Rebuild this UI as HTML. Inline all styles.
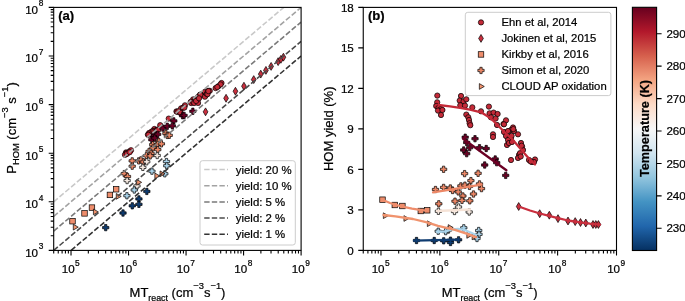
<!DOCTYPE html><html><head><meta charset="utf-8"><style>html,body{margin:0;padding:0;background:#fff;overflow:hidden}svg{display:block;will-change:transform}</style></head><body>
<svg width="685" height="301" viewBox="0 0 685 301" font-family="Liberation Sans, sans-serif">
<style>text{stroke:#000;stroke-width:0.22px;paint-order:stroke}</style>
<defs><linearGradient id="cb" x1="0" y1="1" x2="0" y2="0">
<stop offset="0.0" stop-color="#053061"/>
<stop offset="0.1" stop-color="#2166ac"/>
<stop offset="0.2" stop-color="#4393c3"/>
<stop offset="0.3" stop-color="#92c5de"/>
<stop offset="0.4" stop-color="#d1e5f0"/>
<stop offset="0.5" stop-color="#f7f7f7"/>
<stop offset="0.6" stop-color="#fddbc7"/>
<stop offset="0.7" stop-color="#f4a582"/>
<stop offset="0.8" stop-color="#d6604d"/>
<stop offset="0.9" stop-color="#b2182b"/>
<stop offset="1.0" stop-color="#67001f"/>
</linearGradient>
<clipPath id="ca"><rect x="53.7" y="7.4" width="247.40000000000003" height="243.0"/></clipPath>
<clipPath id="cbp"><rect x="363.25" y="7.4" width="253.25" height="243.0"/></clipPath>
</defs>
<rect width="685" height="301" fill="#fff"/>
<g clip-path="url(#ca)">
<circle cx="126.04" cy="152.42" r="2.65" fill="#c42a38" stroke="#000" stroke-width="0.7"/>
<circle cx="125.94" cy="153.44" r="2.65" fill="#c42a38" stroke="#000" stroke-width="0.7"/>
<circle cx="124.96" cy="154.8" r="2.65" fill="#c42a38" stroke="#000" stroke-width="0.7"/>
<circle cx="127.11" cy="153.28" r="2.65" fill="#c42a38" stroke="#000" stroke-width="0.7"/>
<circle cx="129.65" cy="151.28" r="2.65" fill="#c42a38" stroke="#000" stroke-width="0.7"/>
<circle cx="126.72" cy="153.99" r="2.65" fill="#c42a38" stroke="#000" stroke-width="0.7"/>
<circle cx="131.02" cy="150.27" r="2.65" fill="#c42a38" stroke="#000" stroke-width="0.7"/>
<circle cx="129.65" cy="152.19" r="2.65" fill="#c42a38" stroke="#000" stroke-width="0.7"/>
<circle cx="149.19" cy="132.91" r="2.65" fill="#c42a38" stroke="#000" stroke-width="0.7"/>
<circle cx="147.92" cy="134.63" r="2.65" fill="#c42a38" stroke="#000" stroke-width="0.7"/>
<circle cx="151.73" cy="131.51" r="2.65" fill="#c42a38" stroke="#000" stroke-width="0.7"/>
<circle cx="154.37" cy="129" r="2.65" fill="#c42a38" stroke="#000" stroke-width="0.7"/>
<circle cx="148.51" cy="134.8" r="2.65" fill="#c42a38" stroke="#000" stroke-width="0.7"/>
<circle cx="153.1" cy="130.97" r="2.65" fill="#c42a38" stroke="#000" stroke-width="0.7"/>
<circle cx="160.23" cy="125.19" r="2.65" fill="#c42a38" stroke="#000" stroke-width="0.7"/>
<circle cx="154.37" cy="131.25" r="2.65" fill="#c42a38" stroke="#000" stroke-width="0.7"/>
<circle cx="156.32" cy="130.02" r="2.65" fill="#c42a38" stroke="#000" stroke-width="0.7"/>
<circle cx="157.01" cy="129.88" r="2.65" fill="#c42a38" stroke="#000" stroke-width="0.7"/>
<circle cx="157.59" cy="129.91" r="2.65" fill="#c42a38" stroke="#000" stroke-width="0.7"/>
<circle cx="158.28" cy="129.66" r="2.65" fill="#c42a38" stroke="#000" stroke-width="0.7"/>
<circle cx="168.73" cy="118.61" r="2.65" fill="#c42a38" stroke="#000" stroke-width="0.7"/>
<circle cx="176.45" cy="111.39" r="2.65" fill="#c42a38" stroke="#000" stroke-width="0.7"/>
<circle cx="177.13" cy="111.82" r="2.65" fill="#c42a38" stroke="#000" stroke-width="0.7"/>
<circle cx="181.04" cy="108.41" r="2.65" fill="#c42a38" stroke="#000" stroke-width="0.7"/>
<circle cx="184.95" cy="105.32" r="2.65" fill="#c42a38" stroke="#000" stroke-width="0.7"/>
<circle cx="178.4" cy="111.37" r="2.65" fill="#c42a38" stroke="#000" stroke-width="0.7"/>
<circle cx="182.99" cy="107.7" r="2.65" fill="#c42a38" stroke="#000" stroke-width="0.7"/>
<circle cx="190.71" cy="102.06" r="2.65" fill="#c42a38" stroke="#000" stroke-width="0.7"/>
<circle cx="193.15" cy="99.39" r="2.65" fill="#c42a38" stroke="#000" stroke-width="0.7"/>
<circle cx="184.36" cy="107.59" r="2.65" fill="#c42a38" stroke="#000" stroke-width="0.7"/>
<circle cx="191.2" cy="101.7" r="2.65" fill="#c42a38" stroke="#000" stroke-width="0.7"/>
<circle cx="199.99" cy="94.81" r="2.65" fill="#c42a38" stroke="#000" stroke-width="0.7"/>
<circle cx="198.04" cy="96.89" r="2.65" fill="#c42a38" stroke="#000" stroke-width="0.7"/>
<circle cx="200.97" cy="94.59" r="2.65" fill="#c42a38" stroke="#000" stroke-width="0.7"/>
<circle cx="191.2" cy="103.03" r="2.65" fill="#c42a38" stroke="#000" stroke-width="0.7"/>
<circle cx="195.11" cy="99.55" r="2.65" fill="#c42a38" stroke="#000" stroke-width="0.7"/>
<circle cx="180.45" cy="112.52" r="2.65" fill="#c42a38" stroke="#000" stroke-width="0.7"/>
<circle cx="180.45" cy="113.02" r="2.65" fill="#c42a38" stroke="#000" stroke-width="0.7"/>
<circle cx="193.15" cy="102.1" r="2.65" fill="#c42a38" stroke="#000" stroke-width="0.7"/>
<circle cx="197.06" cy="98.85" r="2.65" fill="#c42a38" stroke="#000" stroke-width="0.7"/>
<circle cx="204.88" cy="91.88" r="2.65" fill="#c42a38" stroke="#000" stroke-width="0.7"/>
<circle cx="198.04" cy="98.35" r="2.65" fill="#c42a38" stroke="#000" stroke-width="0.7"/>
<circle cx="195.11" cy="101.2" r="2.65" fill="#c42a38" stroke="#000" stroke-width="0.7"/>
<circle cx="194.13" cy="103" r="2.65" fill="#c42a38" stroke="#000" stroke-width="0.7"/>
<circle cx="207.81" cy="91.05" r="2.65" fill="#c42a38" stroke="#000" stroke-width="0.7"/>
<circle cx="208.78" cy="90.93" r="2.65" fill="#c42a38" stroke="#000" stroke-width="0.7"/>
<circle cx="209.76" cy="90.82" r="2.65" fill="#c42a38" stroke="#000" stroke-width="0.7"/>
<circle cx="205.85" cy="95.2" r="2.65" fill="#c42a38" stroke="#000" stroke-width="0.7"/>
<circle cx="204.88" cy="96.7" r="2.65" fill="#c42a38" stroke="#000" stroke-width="0.7"/>
<circle cx="198.04" cy="102.94" r="2.65" fill="#c42a38" stroke="#000" stroke-width="0.7"/>
<circle cx="215.62" cy="88.09" r="2.65" fill="#c42a38" stroke="#000" stroke-width="0.7"/>
<circle cx="218.55" cy="86.08" r="2.65" fill="#c42a38" stroke="#000" stroke-width="0.7"/>
<circle cx="221.48" cy="83.02" r="2.65" fill="#c42a38" stroke="#000" stroke-width="0.7"/>
<circle cx="220.51" cy="84.43" r="2.65" fill="#c42a38" stroke="#000" stroke-width="0.7"/>
<circle cx="206.83" cy="93.98" r="2.65" fill="#c42a38" stroke="#000" stroke-width="0.7"/>
<circle cx="207.51" cy="94.14" r="2.65" fill="#c42a38" stroke="#000" stroke-width="0.7"/>
<circle cx="217.28" cy="87.04" r="2.65" fill="#c42a38" stroke="#000" stroke-width="0.7"/>
<circle cx="208.39" cy="91.09" r="2.65" fill="#c42a38" stroke="#000" stroke-width="0.7"/>
<circle cx="198.62" cy="97.44" r="2.65" fill="#c42a38" stroke="#000" stroke-width="0.7"/>
<circle cx="200.28" cy="94.84" r="2.65" fill="#c42a38" stroke="#000" stroke-width="0.7"/>
<circle cx="196.08" cy="100.96" r="2.65" fill="#c42a38" stroke="#000" stroke-width="0.7"/>
<circle cx="199.01" cy="98.29" r="2.65" fill="#c42a38" stroke="#000" stroke-width="0.7"/>
<path d="M205.56 107.88L207.91 111.83L205.56 115.78L203.21 111.83Z" fill="#c92f3e" stroke="#000" stroke-width="0.7"/>
<path d="M226.07 94.33L228.42 98.28L226.07 102.23L223.72 98.28Z" fill="#c92f3e" stroke="#000" stroke-width="0.7"/>
<path d="M235.45 87.29L237.8 91.24L235.45 95.19L233.1 91.24Z" fill="#c92f3e" stroke="#000" stroke-width="0.7"/>
<path d="M243.95 82.25L246.3 86.2L243.95 90.15L241.6 86.2Z" fill="#c92f3e" stroke="#000" stroke-width="0.7"/>
<path d="M253.72 75.65L256.07 79.6L253.72 83.55L251.37 79.6Z" fill="#c92f3e" stroke="#000" stroke-width="0.7"/>
<path d="M260.75 70.15L263.1 74.1L260.75 78.05L258.4 74.1Z" fill="#c92f3e" stroke="#000" stroke-width="0.7"/>
<path d="M265.93 66.44L268.28 70.39L265.93 74.34L263.58 70.39Z" fill="#c92f3e" stroke="#000" stroke-width="0.7"/>
<path d="M271.11 62.45L273.46 66.4L271.11 70.35L268.76 66.4Z" fill="#c92f3e" stroke="#000" stroke-width="0.7"/>
<path d="M278.14 57.69L280.49 61.64L278.14 65.59L275.79 61.64Z" fill="#c92f3e" stroke="#000" stroke-width="0.7"/>
<path d="M280.88 55.38L283.23 59.33L280.88 63.28L278.53 59.33Z" fill="#c92f3e" stroke="#000" stroke-width="0.7"/>
<path d="M283.42 53.24L285.77 57.19L283.42 61.14L281.07 57.19Z" fill="#c92f3e" stroke="#000" stroke-width="0.7"/>
<rect x="69.76" y="218.46" width="5.5" height="5.5" fill="#ee8d6c" stroke="#000" stroke-width="0.7"/>
<rect x="81.77" y="210.64" width="5.5" height="5.5" fill="#ee8d6c" stroke="#000" stroke-width="0.7"/>
<rect x="89.2" y="204.84" width="5.5" height="5.5" fill="#ee8d6c" stroke="#000" stroke-width="0.7"/>
<rect x="107.17" y="192.17" width="5.5" height="5.5" fill="#ee8d6c" stroke="#000" stroke-width="0.7"/>
<rect x="113.42" y="186.52" width="5.5" height="5.5" fill="#ee8d6c" stroke="#000" stroke-width="0.7"/>
<path d="M152.14 132.85L154.44 132.85L154.44 134.85L156.44 134.85L156.44 137.15L154.44 137.15L154.44 139.15L152.14 139.15L152.14 137.15L150.14 137.15L150.14 134.85L152.14 134.85Z" fill="#6b0024" stroke="#000" stroke-width="0.7" stroke-linejoin="miter"/>
<path d="M161.72 125.04L164.02 125.04L164.02 127.04L166.02 127.04L166.02 129.34L164.02 129.34L164.02 131.34L161.72 131.34L161.72 129.34L159.72 129.34L159.72 127.04L161.72 127.04Z" fill="#6b0024" stroke="#000" stroke-width="0.7" stroke-linejoin="miter"/>
<path d="M153.61 132.62L155.91 132.62L155.91 134.62L157.91 134.62L157.91 136.92L155.91 136.92L155.91 138.92L153.61 138.92L153.61 136.92L151.61 136.92L151.61 134.62L153.61 134.62Z" fill="#6b0024" stroke="#000" stroke-width="0.7" stroke-linejoin="miter"/>
<path d="M156.54 131.19L158.84 131.19L158.84 133.19L160.84 133.19L160.84 135.49L158.84 135.49L158.84 137.49L156.54 137.49L156.54 135.49L154.54 135.49L154.54 133.19L156.54 133.19Z" fill="#6b0024" stroke="#000" stroke-width="0.7" stroke-linejoin="miter"/>
<path d="M150.68 136.62L152.98 136.62L152.98 138.62L154.98 138.62L154.98 140.92L152.98 140.92L152.98 142.92L150.68 142.92L150.68 140.92L148.68 140.92L148.68 138.62L150.68 138.62Z" fill="#6b0024" stroke="#000" stroke-width="0.7" stroke-linejoin="miter"/>
<path d="M153.61 134.94L155.91 134.94L155.91 136.94L157.91 136.94L157.91 139.24L155.91 139.24L155.91 141.24L153.61 141.24L153.61 139.24L151.61 139.24L151.61 136.94L153.61 136.94Z" fill="#6b0024" stroke="#000" stroke-width="0.7" stroke-linejoin="miter"/>
<path d="M166.11 123.1L168.41 123.1L168.41 125.1L170.41 125.1L170.41 127.4L168.41 127.4L168.41 129.4L166.11 129.4L166.11 127.4L164.11 127.4L164.11 125.1L166.11 125.1Z" fill="#6b0024" stroke="#000" stroke-width="0.7" stroke-linejoin="miter"/>
<path d="M172.66 117.74L174.96 117.74L174.96 119.74L176.96 119.74L176.96 122.04L174.96 122.04L174.96 124.04L172.66 124.04L172.66 122.04L170.66 122.04L170.66 119.74L172.66 119.74Z" fill="#6b0024" stroke="#000" stroke-width="0.7" stroke-linejoin="miter"/>
<path d="M181.45 112.6L183.75 112.6L183.75 114.6L185.75 114.6L185.75 116.9L183.75 116.9L183.75 118.9L181.45 118.9L181.45 116.9L179.45 116.9L179.45 114.6L181.45 114.6Z" fill="#6b0024" stroke="#000" stroke-width="0.7" stroke-linejoin="miter"/>
<path d="M182.92 112.24L185.22 112.24L185.22 114.24L187.22 114.24L187.22 116.54L185.22 116.54L185.22 118.54L182.92 118.54L182.92 116.54L180.92 116.54L180.92 114.24L182.92 114.24Z" fill="#6b0024" stroke="#000" stroke-width="0.7" stroke-linejoin="miter"/>
<path d="M171.19 122.7L173.49 122.7L173.49 124.7L175.49 124.7L175.49 127L173.49 127L173.49 129L171.19 129L171.19 127L169.19 127L169.19 124.7L171.19 124.7Z" fill="#6b0024" stroke="#000" stroke-width="0.7" stroke-linejoin="miter"/>
<path d="M191.71 108.11L194.01 108.11L194.01 110.11L196.01 110.11L196.01 112.41L194.01 112.41L194.01 114.41L191.71 114.41L191.71 112.41L189.71 112.41L189.71 110.11L191.71 110.11Z" fill="#6b0024" stroke="#000" stroke-width="0.7" stroke-linejoin="miter"/>
<path d="M131.04 157.72L133.34 157.72L133.34 159.72L135.34 159.72L135.34 162.02L133.34 162.02L133.34 164.02L131.04 164.02L131.04 162.02L129.04 162.02L129.04 159.72L131.04 159.72Z" fill="#ec8766" stroke="#000" stroke-width="0.7" stroke-linejoin="miter"/>
<path d="M151.56 141.53L153.86 141.53L153.86 143.53L155.86 143.53L155.86 145.83L153.86 145.83L153.86 147.83L151.56 147.83L151.56 145.83L149.56 145.83L149.56 143.53L151.56 143.53Z" fill="#ec8766" stroke="#000" stroke-width="0.7" stroke-linejoin="miter"/>
<path d="M164.75 130.31L167.05 130.31L167.05 132.31L169.05 132.31L169.05 134.61L167.05 134.61L167.05 136.61L164.75 136.61L164.75 134.61L162.75 134.61L162.75 132.31L164.75 132.31Z" fill="#ec8766" stroke="#000" stroke-width="0.7" stroke-linejoin="miter"/>
<path d="M157.71 138.35L160.01 138.35L160.01 140.35L162.01 140.35L162.01 142.65L160.01 142.65L160.01 144.65L157.71 144.65L157.71 142.65L155.71 142.65L155.71 140.35L157.71 140.35Z" fill="#ec8766" stroke="#000" stroke-width="0.7" stroke-linejoin="miter"/>
<path d="M131.04 163.05L133.34 163.05L133.34 165.05L135.34 165.05L135.34 167.35L133.34 167.35L133.34 169.35L131.04 169.35L131.04 167.35L129.04 167.35L129.04 165.05L131.04 165.05Z" fill="#ec8766" stroke="#000" stroke-width="0.7" stroke-linejoin="miter"/>
<path d="M137.59 157.72L139.89 157.72L139.89 159.72L141.89 159.72L141.89 162.02L139.89 162.02L139.89 164.02L137.59 164.02L137.59 162.02L135.59 162.02L135.59 159.72L137.59 159.72Z" fill="#ec8766" stroke="#000" stroke-width="0.7" stroke-linejoin="miter"/>
<path d="M139.84 156.68L142.14 156.68L142.14 158.68L144.14 158.68L144.14 160.98L142.14 160.98L142.14 162.98L139.84 162.98L139.84 160.98L137.84 160.98L137.84 158.68L139.84 158.68Z" fill="#ec8766" stroke="#000" stroke-width="0.7" stroke-linejoin="miter"/>
<path d="M147.94 148.27L150.24 148.27L150.24 150.27L152.24 150.27L152.24 152.57L150.24 152.57L150.24 154.57L147.94 154.57L147.94 152.57L145.94 152.57L145.94 150.27L147.94 150.27Z" fill="#ec8766" stroke="#000" stroke-width="0.7" stroke-linejoin="miter"/>
<path d="M151.85 144.74L154.15 144.74L154.15 146.74L156.15 146.74L156.15 149.04L154.15 149.04L154.15 151.04L151.85 151.04L151.85 149.04L149.85 149.04L149.85 146.74L151.85 146.74Z" fill="#ec8766" stroke="#000" stroke-width="0.7" stroke-linejoin="miter"/>
<path d="M156.35 141.34L158.65 141.34L158.65 143.34L160.65 143.34L160.65 145.64L158.65 145.64L158.65 147.64L156.35 147.64L156.35 145.64L154.35 145.64L154.35 143.34L156.35 143.34Z" fill="#ec8766" stroke="#000" stroke-width="0.7" stroke-linejoin="miter"/>
<path d="M166.11 132.27L168.41 132.27L168.41 134.27L170.41 134.27L170.41 136.57L168.41 136.57L168.41 138.57L166.11 138.57L166.11 136.57L164.11 136.57L164.11 134.27L166.11 134.27Z" fill="#ec8766" stroke="#000" stroke-width="0.7" stroke-linejoin="miter"/>
<path d="M168.07 132.17L170.37 132.17L170.37 134.17L172.37 134.17L172.37 136.47L170.37 136.47L170.37 138.47L168.07 138.47L168.07 136.47L166.07 136.47L166.07 134.17L168.07 134.17Z" fill="#ec8766" stroke="#000" stroke-width="0.7" stroke-linejoin="miter"/>
<path d="M145.31 152.56L147.61 152.56L147.61 154.56L149.61 154.56L149.61 156.86L147.61 156.86L147.61 158.86L145.31 158.86L145.31 156.86L143.31 156.86L143.31 154.56L145.31 154.56Z" fill="#ec8766" stroke="#000" stroke-width="0.7" stroke-linejoin="miter"/>
<path d="M149.9 150.21L152.2 150.21L152.2 152.21L154.2 152.21L154.2 154.51L152.2 154.51L152.2 156.51L149.9 156.51L149.9 154.51L147.9 154.51L147.9 152.21L149.9 152.21Z" fill="#ec8766" stroke="#000" stroke-width="0.7" stroke-linejoin="miter"/>
<path d="M160.25 140.7L162.55 140.7L162.55 142.7L164.55 142.7L164.55 145L162.55 145L162.55 147L160.25 147L160.25 145L158.25 145L158.25 142.7L160.25 142.7Z" fill="#ec8766" stroke="#000" stroke-width="0.7" stroke-linejoin="miter"/>
<path d="M123.13 170.45L125.43 170.45L125.43 172.45L127.43 172.45L127.43 174.75L125.43 174.75L125.43 176.75L123.13 176.75L123.13 174.75L121.13 174.75L121.13 172.45L123.13 172.45Z" fill="#ec8766" stroke="#000" stroke-width="0.7" stroke-linejoin="miter"/>
<path d="M126.35 173.37L128.65 173.37L128.65 175.37L130.65 175.37L130.65 177.67L128.65 177.67L128.65 179.67L126.35 179.67L126.35 177.67L124.35 177.67L124.35 175.37L126.35 175.37Z" fill="#ec8766" stroke="#000" stroke-width="0.7" stroke-linejoin="miter"/>
<path d="M142.18 158.86L144.48 158.86L144.48 160.86L146.48 160.86L146.48 163.16L144.48 163.16L144.48 165.16L142.18 165.16L142.18 163.16L140.18 163.16L140.18 160.86L142.18 160.86Z" fill="#ec8766" stroke="#000" stroke-width="0.7" stroke-linejoin="miter"/>
<path d="M149.02 152.74L151.32 152.74L151.32 154.74L153.32 154.74L153.32 157.04L151.32 157.04L151.32 159.04L149.02 159.04L149.02 157.04L147.02 157.04L147.02 154.74L149.02 154.74Z" fill="#ec8766" stroke="#000" stroke-width="0.7" stroke-linejoin="miter"/>
<path d="M156.64 146.47L158.94 146.47L158.94 148.47L160.94 148.47L160.94 150.77L158.94 150.77L158.94 152.77L156.64 152.77L156.64 150.77L154.64 150.77L154.64 148.47L156.64 148.47Z" fill="#ec8766" stroke="#000" stroke-width="0.7" stroke-linejoin="miter"/>
<path d="M135.83 182.8L138.13 182.8L138.13 184.8L140.13 184.8L140.13 187.1L138.13 187.1L138.13 189.1L135.83 189.1L135.83 187.1L133.83 187.1L133.83 184.8L135.83 184.8Z" fill="#f8ece4" stroke="#000" stroke-width="0.7" stroke-linejoin="miter"/>
<path d="M125.96 177.41L128.26 177.41L128.26 179.41L130.26 179.41L130.26 181.71L128.26 181.71L128.26 183.71L125.96 183.71L125.96 181.71L123.96 181.71L123.96 179.41L125.96 179.41Z" fill="#f8ece4" stroke="#000" stroke-width="0.7" stroke-linejoin="miter"/>
<path d="M141.69 164.23L143.99 164.23L143.99 166.23L145.99 166.23L145.99 168.53L143.99 168.53L143.99 170.53L141.69 170.53L141.69 168.53L139.69 168.53L139.69 166.23L141.69 166.23Z" fill="#f8ece4" stroke="#000" stroke-width="0.7" stroke-linejoin="miter"/>
<path d="M145.6 158.61L147.9 158.61L147.9 160.61L149.9 160.61L149.9 162.91L147.9 162.91L147.9 164.91L145.6 164.91L145.6 162.91L143.6 162.91L143.6 160.61L145.6 160.61Z" fill="#f8ece4" stroke="#000" stroke-width="0.7" stroke-linejoin="miter"/>
<path d="M156.05 152.37L158.35 152.37L158.35 154.37L160.35 154.37L160.35 156.67L158.35 156.67L158.35 158.67L156.05 158.67L156.05 156.67L154.05 156.67L154.05 154.37L156.05 154.37Z" fill="#f8ece4" stroke="#000" stroke-width="0.7" stroke-linejoin="miter"/>
<path d="M125.77 192.58L128.07 192.58L128.07 194.58L130.07 194.58L130.07 196.88L128.07 196.88L128.07 198.88L125.77 198.88L125.77 196.88L123.77 196.88L123.77 194.58L125.77 194.58Z" fill="#a9d3ea" stroke="#000" stroke-width="0.7" stroke-linejoin="miter"/>
<path d="M133.1 186.84L135.4 186.84L135.4 188.84L137.4 188.84L137.4 191.14L135.4 191.14L135.4 193.14L133.1 193.14L133.1 191.14L131.1 191.14L131.1 188.84L133.1 188.84Z" fill="#a9d3ea" stroke="#000" stroke-width="0.7" stroke-linejoin="miter"/>
<path d="M150.78 168.01L153.08 168.01L153.08 170.01L155.08 170.01L155.08 172.31L153.08 172.31L153.08 174.31L150.78 174.31L150.78 172.31L148.78 172.31L148.78 170.01L150.78 170.01Z" fill="#a9d3ea" stroke="#000" stroke-width="0.7" stroke-linejoin="miter"/>
<path d="M165.33 158.4L167.63 158.4L167.63 160.4L169.63 160.4L169.63 162.7L167.63 162.7L167.63 164.7L165.33 164.7L165.33 162.7L163.33 162.7L163.33 160.4L165.33 160.4Z" fill="#a9d3ea" stroke="#000" stroke-width="0.7" stroke-linejoin="miter"/>
<path d="M165.63 162.62L167.93 162.62L167.93 164.62L169.93 164.62L169.93 166.92L167.93 166.92L167.93 168.92L165.63 168.92L165.63 166.92L163.63 166.92L163.63 164.62L165.63 164.62Z" fill="#a9d3ea" stroke="#000" stroke-width="0.7" stroke-linejoin="miter"/>
<path d="M163.67 170.65L165.97 170.65L165.97 172.65L167.97 172.65L167.97 174.95L165.97 174.95L165.97 176.95L163.67 176.95L163.67 174.95L161.67 174.95L161.67 172.65L163.67 172.65Z" fill="#a9d3ea" stroke="#000" stroke-width="0.7" stroke-linejoin="miter"/>
<path d="M104.57 224.47L106.87 224.47L106.87 226.47L108.87 226.47L108.87 228.77L106.87 228.77L106.87 230.77L104.57 230.77L104.57 228.77L102.57 228.77L102.57 226.47L104.57 226.47Z" fill="#0e3b70" stroke="#000" stroke-width="0.7" stroke-linejoin="miter"/>
<path d="M121.86 209.86L124.16 209.86L124.16 211.86L126.16 211.86L126.16 214.16L124.16 214.16L124.16 216.16L121.86 216.16L121.86 214.16L119.86 214.16L119.86 211.86L121.86 211.86Z" fill="#0e3b70" stroke="#000" stroke-width="0.7" stroke-linejoin="miter"/>
<path d="M131.14 202.67L133.44 202.67L133.44 204.67L135.44 204.67L135.44 206.97L133.44 206.97L133.44 208.97L131.14 208.97L131.14 206.97L129.14 206.97L129.14 204.67L131.14 204.67Z" fill="#0e3b70" stroke="#000" stroke-width="0.7" stroke-linejoin="miter"/>
<path d="M137.78 195.78L140.08 195.78L140.08 197.78L142.08 197.78L142.08 200.08L140.08 200.08L140.08 202.08L137.78 202.08L137.78 200.08L135.78 200.08L135.78 197.78L137.78 197.78Z" fill="#0e3b70" stroke="#000" stroke-width="0.7" stroke-linejoin="miter"/>
<path d="M137.78 201.17L140.08 201.17L140.08 203.17L142.08 203.17L142.08 205.47L140.08 205.47L140.08 207.47L137.78 207.47L137.78 205.47L135.78 205.47L135.78 203.17L137.78 203.17Z" fill="#0e3b70" stroke="#000" stroke-width="0.7" stroke-linejoin="miter"/>
<path d="M145.7 188.28L148 188.28L148 190.28L150 190.28L150 192.58L148 192.58L148 194.58L145.7 194.58L145.7 192.58L143.7 192.58L143.7 190.28L145.7 190.28Z" fill="#0e3b70" stroke="#000" stroke-width="0.7" stroke-linejoin="miter"/>
<path d="M78.25 227.15L73.3 224.28L73.3 230.02Z" fill="#f0936e" stroke="#000" stroke-width="0.7"/>
<path d="M98.37 211.92L93.42 209.05L93.42 214.8Z" fill="#f0936e" stroke="#000" stroke-width="0.7"/>
<path d="M121.23 196.37L116.28 193.5L116.28 199.24Z" fill="#f0936e" stroke="#000" stroke-width="0.7"/>
<path d="M141.65 182.36L136.7 179.49L136.7 185.23Z" fill="#f0936e" stroke="#000" stroke-width="0.7"/>
<path d="M159.82 175.93L154.87 173.06L154.87 178.8Z" fill="#f0936e" stroke="#000" stroke-width="0.7"/>
<path d="M165 173.78L160.05 170.91L160.05 176.65Z" fill="#f0936e" stroke="#000" stroke-width="0.7"/>
</g>
<g clip-path="url(#ca)" fill="none" stroke-width="1.6" stroke-dasharray="5.4 2.2">
<line x1="53.7" y1="201.8" x2="301.1" y2="-7.23" stroke="#c9c9c9"/>
<line x1="53.7" y1="216.43" x2="301.1" y2="7.4" stroke="#a3a3a3"/>
<line x1="53.7" y1="231.06" x2="301.1" y2="22.03" stroke="#7a7a7a"/>
<line x1="53.7" y1="250.4" x2="301.1" y2="41.37" stroke="#4b4b4b"/>
<line x1="53.7" y1="265.03" x2="301.1" y2="56" stroke="#333333"/>
</g>
<g clip-path="url(#cbp)">
<circle cx="437.3" cy="95.6" r="2.65" fill="#c42a38" stroke="#000" stroke-width="0.7"/>
<circle cx="437.2" cy="102.3" r="2.65" fill="#c42a38" stroke="#000" stroke-width="0.7"/>
<circle cx="436.2" cy="106" r="2.65" fill="#c42a38" stroke="#000" stroke-width="0.7"/>
<circle cx="438.4" cy="108" r="2.65" fill="#c42a38" stroke="#000" stroke-width="0.7"/>
<circle cx="441" cy="109" r="2.65" fill="#c42a38" stroke="#000" stroke-width="0.7"/>
<circle cx="438" cy="110.6" r="2.65" fill="#c42a38" stroke="#000" stroke-width="0.7"/>
<circle cx="442.4" cy="110" r="2.65" fill="#c42a38" stroke="#000" stroke-width="0.7"/>
<circle cx="441" cy="115" r="2.65" fill="#c42a38" stroke="#000" stroke-width="0.7"/>
<circle cx="461" cy="96" r="2.65" fill="#c42a38" stroke="#000" stroke-width="0.7"/>
<circle cx="459.7" cy="100.6" r="2.65" fill="#c42a38" stroke="#000" stroke-width="0.7"/>
<circle cx="463.6" cy="101.3" r="2.65" fill="#c42a38" stroke="#000" stroke-width="0.7"/>
<circle cx="466.3" cy="99.3" r="2.65" fill="#c42a38" stroke="#000" stroke-width="0.7"/>
<circle cx="460.3" cy="105.3" r="2.65" fill="#c42a38" stroke="#000" stroke-width="0.7"/>
<circle cx="465" cy="105.6" r="2.65" fill="#c42a38" stroke="#000" stroke-width="0.7"/>
<circle cx="472.3" cy="107.3" r="2.65" fill="#c42a38" stroke="#000" stroke-width="0.7"/>
<circle cx="466.3" cy="114.6" r="2.65" fill="#c42a38" stroke="#000" stroke-width="0.7"/>
<circle cx="468.3" cy="117.3" r="2.65" fill="#c42a38" stroke="#000" stroke-width="0.7"/>
<circle cx="469" cy="120" r="2.65" fill="#c42a38" stroke="#000" stroke-width="0.7"/>
<circle cx="469.6" cy="123.2" r="2.65" fill="#c42a38" stroke="#000" stroke-width="0.7"/>
<circle cx="470.3" cy="125.2" r="2.65" fill="#c42a38" stroke="#000" stroke-width="0.7"/>
<circle cx="481" cy="111.3" r="2.65" fill="#c42a38" stroke="#000" stroke-width="0.7"/>
<circle cx="488.9" cy="106.6" r="2.65" fill="#c42a38" stroke="#000" stroke-width="0.7"/>
<circle cx="489.6" cy="113.3" r="2.65" fill="#c42a38" stroke="#000" stroke-width="0.7"/>
<circle cx="493.6" cy="112.6" r="2.65" fill="#c42a38" stroke="#000" stroke-width="0.7"/>
<circle cx="497.6" cy="114" r="2.65" fill="#c42a38" stroke="#000" stroke-width="0.7"/>
<circle cx="490.9" cy="117.3" r="2.65" fill="#c42a38" stroke="#000" stroke-width="0.7"/>
<circle cx="495.6" cy="118.6" r="2.65" fill="#c42a38" stroke="#000" stroke-width="0.7"/>
<circle cx="503.5" cy="124" r="2.65" fill="#c42a38" stroke="#000" stroke-width="0.7"/>
<circle cx="506" cy="120.3" r="2.65" fill="#c42a38" stroke="#000" stroke-width="0.7"/>
<circle cx="497" cy="125" r="2.65" fill="#c42a38" stroke="#000" stroke-width="0.7"/>
<circle cx="504" cy="124.3" r="2.65" fill="#c42a38" stroke="#000" stroke-width="0.7"/>
<circle cx="513" cy="127.5" r="2.65" fill="#c42a38" stroke="#000" stroke-width="0.7"/>
<circle cx="511" cy="130" r="2.65" fill="#c42a38" stroke="#000" stroke-width="0.7"/>
<circle cx="514" cy="131" r="2.65" fill="#c42a38" stroke="#000" stroke-width="0.7"/>
<circle cx="504" cy="132" r="2.65" fill="#c42a38" stroke="#000" stroke-width="0.7"/>
<circle cx="508" cy="131" r="2.65" fill="#c42a38" stroke="#000" stroke-width="0.7"/>
<circle cx="493" cy="134.3" r="2.65" fill="#c42a38" stroke="#000" stroke-width="0.7"/>
<circle cx="493" cy="137" r="2.65" fill="#c42a38" stroke="#000" stroke-width="0.7"/>
<circle cx="506" cy="136" r="2.65" fill="#c42a38" stroke="#000" stroke-width="0.7"/>
<circle cx="510" cy="136.3" r="2.65" fill="#c42a38" stroke="#000" stroke-width="0.7"/>
<circle cx="518" cy="134.3" r="2.65" fill="#c42a38" stroke="#000" stroke-width="0.7"/>
<circle cx="511" cy="138" r="2.65" fill="#c42a38" stroke="#000" stroke-width="0.7"/>
<circle cx="508" cy="140" r="2.65" fill="#c42a38" stroke="#000" stroke-width="0.7"/>
<circle cx="507" cy="145" r="2.65" fill="#c42a38" stroke="#000" stroke-width="0.7"/>
<circle cx="521" cy="143" r="2.65" fill="#c42a38" stroke="#000" stroke-width="0.7"/>
<circle cx="522" cy="146.5" r="2.65" fill="#c42a38" stroke="#000" stroke-width="0.7"/>
<circle cx="523" cy="150" r="2.65" fill="#c42a38" stroke="#000" stroke-width="0.7"/>
<circle cx="519" cy="155" r="2.65" fill="#c42a38" stroke="#000" stroke-width="0.7"/>
<circle cx="518" cy="158" r="2.65" fill="#c42a38" stroke="#000" stroke-width="0.7"/>
<circle cx="511" cy="160" r="2.65" fill="#c42a38" stroke="#000" stroke-width="0.7"/>
<circle cx="529" cy="160" r="2.65" fill="#c42a38" stroke="#000" stroke-width="0.7"/>
<circle cx="532" cy="162" r="2.65" fill="#c42a38" stroke="#000" stroke-width="0.7"/>
<circle cx="535" cy="159.5" r="2.65" fill="#c42a38" stroke="#000" stroke-width="0.7"/>
<circle cx="534" cy="162" r="2.65" fill="#c42a38" stroke="#000" stroke-width="0.7"/>
<circle cx="520" cy="153.2" r="2.65" fill="#c42a38" stroke="#000" stroke-width="0.7"/>
<circle cx="520.7" cy="156.5" r="2.65" fill="#c42a38" stroke="#000" stroke-width="0.7"/>
<circle cx="530.7" cy="161.5" r="2.65" fill="#c42a38" stroke="#000" stroke-width="0.7"/>
<circle cx="521.6" cy="145.7" r="2.65" fill="#c42a38" stroke="#000" stroke-width="0.7"/>
<circle cx="511.6" cy="135.8" r="2.65" fill="#c42a38" stroke="#000" stroke-width="0.7"/>
<circle cx="513.3" cy="129.1" r="2.65" fill="#c42a38" stroke="#000" stroke-width="0.7"/>
<circle cx="509" cy="143" r="2.65" fill="#c42a38" stroke="#000" stroke-width="0.7"/>
<circle cx="512" cy="142" r="2.65" fill="#c42a38" stroke="#000" stroke-width="0.7"/>
<path d="M518.7 202.55L521.05 206.5L518.7 210.45L516.35 206.5Z" fill="#c92f3e" stroke="#000" stroke-width="0.7"/>
<path d="M539.7 209.75L542.05 213.7L539.7 217.65L537.35 213.7Z" fill="#c92f3e" stroke="#000" stroke-width="0.7"/>
<path d="M549.3 211.25L551.65 215.2L549.3 219.15L546.95 215.2Z" fill="#c92f3e" stroke="#000" stroke-width="0.7"/>
<path d="M558 214.65L560.35 218.6L558 222.55L555.65 218.6Z" fill="#c92f3e" stroke="#000" stroke-width="0.7"/>
<path d="M568 217.05L570.35 221L568 224.95L565.65 221Z" fill="#c92f3e" stroke="#000" stroke-width="0.7"/>
<path d="M575.2 217.65L577.55 221.6L575.2 225.55L572.85 221.6Z" fill="#c92f3e" stroke="#000" stroke-width="0.7"/>
<path d="M580.5 218.55L582.85 222.5L580.5 226.45L578.15 222.5Z" fill="#c92f3e" stroke="#000" stroke-width="0.7"/>
<path d="M585.8 219.05L588.15 223L585.8 226.95L583.45 223Z" fill="#c92f3e" stroke="#000" stroke-width="0.7"/>
<path d="M593 220.55L595.35 224.5L593 228.45L590.65 224.5Z" fill="#c92f3e" stroke="#000" stroke-width="0.7"/>
<path d="M595.8 220.55L598.15 224.5L595.8 228.45L593.45 224.5Z" fill="#c92f3e" stroke="#000" stroke-width="0.7"/>
<path d="M598.4 220.55L600.75 224.5L598.4 228.45L596.05 224.5Z" fill="#c92f3e" stroke="#000" stroke-width="0.7"/>
<rect x="379.75" y="196.95" width="5.5" height="5.5" fill="#ee8d6c" stroke="#000" stroke-width="0.7"/>
<rect x="392.05" y="202.25" width="5.5" height="5.5" fill="#ee8d6c" stroke="#000" stroke-width="0.7"/>
<rect x="399.65" y="203.25" width="5.5" height="5.5" fill="#ee8d6c" stroke="#000" stroke-width="0.7"/>
<rect x="418.05" y="208.25" width="5.5" height="5.5" fill="#ee8d6c" stroke="#000" stroke-width="0.7"/>
<rect x="424.45" y="207.55" width="5.5" height="5.5" fill="#ee8d6c" stroke="#000" stroke-width="0.7"/>
<path d="M464.05 134.05L466.35 134.05L466.35 136.05L468.35 136.05L468.35 138.35L466.35 138.35L466.35 140.35L464.05 140.35L464.05 138.35L462.05 138.35L462.05 136.05L464.05 136.05Z" fill="#6b0024" stroke="#000" stroke-width="0.7" stroke-linejoin="miter"/>
<path d="M473.85 135.55L476.15 135.55L476.15 137.55L478.15 137.55L478.15 139.85L476.15 139.85L476.15 141.85L473.85 141.85L473.85 139.85L471.85 139.85L471.85 137.55L473.85 137.55Z" fill="#6b0024" stroke="#000" stroke-width="0.7" stroke-linejoin="miter"/>
<path d="M465.55 139.35L467.85 139.35L467.85 141.35L469.85 141.35L469.85 143.65L467.85 143.65L467.85 145.65L465.55 145.65L465.55 143.65L463.55 143.65L463.55 141.35L465.55 141.35Z" fill="#6b0024" stroke="#000" stroke-width="0.7" stroke-linejoin="miter"/>
<path d="M468.55 144.55L470.85 144.55L470.85 146.55L472.85 146.55L472.85 148.85L470.85 148.85L470.85 150.85L468.55 150.85L468.55 148.85L466.55 148.85L466.55 146.55L468.55 146.55Z" fill="#6b0024" stroke="#000" stroke-width="0.7" stroke-linejoin="miter"/>
<path d="M462.55 146.85L464.85 146.85L464.85 148.85L466.85 148.85L466.85 151.15L464.85 151.15L464.85 153.15L462.55 153.15L462.55 151.15L460.55 151.15L460.55 148.85L462.55 148.85Z" fill="#6b0024" stroke="#000" stroke-width="0.7" stroke-linejoin="miter"/>
<path d="M465.55 150.55L467.85 150.55L467.85 152.55L469.85 152.55L469.85 154.85L467.85 154.85L467.85 156.85L465.55 156.85L465.55 154.85L463.55 154.85L463.55 152.55L465.55 152.55Z" fill="#6b0024" stroke="#000" stroke-width="0.7" stroke-linejoin="miter"/>
<path d="M478.35 144.55L480.65 144.55L480.65 146.55L482.65 146.55L482.65 148.85L480.65 148.85L480.65 150.85L478.35 150.85L478.35 148.85L476.35 148.85L476.35 146.55L478.35 146.55Z" fill="#6b0024" stroke="#000" stroke-width="0.7" stroke-linejoin="miter"/>
<path d="M485.05 145.35L487.35 145.35L487.35 147.35L489.35 147.35L489.35 149.65L487.35 149.65L487.35 151.65L485.05 151.65L485.05 149.65L483.05 149.65L483.05 147.35L485.05 147.35Z" fill="#6b0024" stroke="#000" stroke-width="0.7" stroke-linejoin="miter"/>
<path d="M494.05 155.85L496.35 155.85L496.35 157.85L498.35 157.85L498.35 160.15L496.35 160.15L496.35 162.15L494.05 162.15L494.05 160.15L492.05 160.15L492.05 157.85L494.05 157.85Z" fill="#6b0024" stroke="#000" stroke-width="0.7" stroke-linejoin="miter"/>
<path d="M495.55 159.55L497.85 159.55L497.85 161.55L499.85 161.55L499.85 163.85L497.85 163.85L497.85 165.85L495.55 165.85L495.55 163.85L493.55 163.85L493.55 161.55L495.55 161.55Z" fill="#6b0024" stroke="#000" stroke-width="0.7" stroke-linejoin="miter"/>
<path d="M483.55 161.85L485.85 161.85L485.85 163.85L487.85 163.85L487.85 166.15L485.85 166.15L485.85 168.15L483.55 168.15L483.55 166.15L481.55 166.15L481.55 163.85L483.55 163.85Z" fill="#6b0024" stroke="#000" stroke-width="0.7" stroke-linejoin="miter"/>
<path d="M504.55 172.25L506.85 172.25L506.85 174.25L508.85 174.25L508.85 176.55L506.85 176.55L506.85 178.55L504.55 178.55L504.55 176.55L502.55 176.55L502.55 174.25L504.55 174.25Z" fill="#6b0024" stroke="#000" stroke-width="0.7" stroke-linejoin="miter"/>
<path d="M442.45 166.15L444.75 166.15L444.75 168.15L446.75 168.15L446.75 170.45L444.75 170.45L444.75 172.45L442.45 172.45L442.45 170.45L440.45 170.45L440.45 168.15L442.45 168.15Z" fill="#ec8766" stroke="#000" stroke-width="0.7" stroke-linejoin="miter"/>
<path d="M463.45 170.45L465.75 170.45L465.75 172.45L467.75 172.45L467.75 174.75L465.75 174.75L465.75 176.75L463.45 176.75L463.45 174.75L461.45 174.75L461.45 172.45L463.45 172.45Z" fill="#ec8766" stroke="#000" stroke-width="0.7" stroke-linejoin="miter"/>
<path d="M476.95 170.15L479.25 170.15L479.25 172.15L481.25 172.15L481.25 174.45L479.25 174.45L479.25 176.45L476.95 176.45L476.95 174.45L474.95 174.45L474.95 172.15L476.95 172.15Z" fill="#ec8766" stroke="#000" stroke-width="0.7" stroke-linejoin="miter"/>
<path d="M469.75 177.45L472.05 177.45L472.05 179.45L474.05 179.45L474.05 181.75L472.05 181.75L472.05 183.75L469.75 183.75L469.75 181.75L467.75 181.75L467.75 179.45L469.75 179.45Z" fill="#ec8766" stroke="#000" stroke-width="0.7" stroke-linejoin="miter"/>
<path d="M442.45 184.25L444.75 184.25L444.75 186.25L446.75 186.25L446.75 188.55L444.75 188.55L444.75 190.55L442.45 190.55L442.45 188.55L440.45 188.55L440.45 186.25L442.45 186.25Z" fill="#ec8766" stroke="#000" stroke-width="0.7" stroke-linejoin="miter"/>
<path d="M449.15 184.85L451.45 184.85L451.45 186.85L453.45 186.85L453.45 189.15L451.45 189.15L451.45 191.15L449.15 191.15L449.15 189.15L447.15 189.15L447.15 186.85L449.15 186.85Z" fill="#ec8766" stroke="#000" stroke-width="0.7" stroke-linejoin="miter"/>
<path d="M451.45 187.35L453.75 187.35L453.75 189.35L455.75 189.35L455.75 191.65L453.75 191.65L453.75 193.65L451.45 193.65L451.45 191.65L449.45 191.65L449.45 189.35L451.45 189.35Z" fill="#ec8766" stroke="#000" stroke-width="0.7" stroke-linejoin="miter"/>
<path d="M459.75 182.75L462.05 182.75L462.05 184.75L464.05 184.75L464.05 187.05L462.05 187.05L462.05 189.05L459.75 189.05L459.75 187.05L457.75 187.05L457.75 184.75L459.75 184.75Z" fill="#ec8766" stroke="#000" stroke-width="0.7" stroke-linejoin="miter"/>
<path d="M463.75 182.05L466.05 182.05L466.05 184.05L468.05 184.05L468.05 186.35L466.05 186.35L466.05 188.35L463.75 188.35L463.75 186.35L461.75 186.35L461.75 184.05L463.75 184.05Z" fill="#ec8766" stroke="#000" stroke-width="0.7" stroke-linejoin="miter"/>
<path d="M468.35 183.25L470.65 183.25L470.65 185.25L472.65 185.25L472.65 187.55L470.65 187.55L470.65 189.55L468.35 189.55L468.35 187.55L466.35 187.55L466.35 185.25L468.35 185.25Z" fill="#ec8766" stroke="#000" stroke-width="0.7" stroke-linejoin="miter"/>
<path d="M478.35 180.75L480.65 180.75L480.65 182.75L482.65 182.75L482.65 185.05L480.65 185.05L480.65 187.05L478.35 187.05L478.35 185.05L476.35 185.05L476.35 182.75L478.35 182.75Z" fill="#ec8766" stroke="#000" stroke-width="0.7" stroke-linejoin="miter"/>
<path d="M480.35 185.45L482.65 185.45L482.65 187.45L484.65 187.45L484.65 189.75L482.65 189.75L482.65 191.75L480.35 191.75L480.35 189.75L478.35 189.75L478.35 187.45L480.35 187.45Z" fill="#ec8766" stroke="#000" stroke-width="0.7" stroke-linejoin="miter"/>
<path d="M457.05 188.75L459.35 188.75L459.35 190.75L461.35 190.75L461.35 193.05L459.35 193.05L459.35 195.05L457.05 195.05L457.05 193.05L455.05 193.05L455.05 190.75L457.05 190.75Z" fill="#ec8766" stroke="#000" stroke-width="0.7" stroke-linejoin="miter"/>
<path d="M461.75 192.85L464.05 192.85L464.05 194.85L466.05 194.85L466.05 197.15L464.05 197.15L464.05 199.15L461.75 199.15L461.75 197.15L459.75 197.15L459.75 194.85L461.75 194.85Z" fill="#ec8766" stroke="#000" stroke-width="0.7" stroke-linejoin="miter"/>
<path d="M472.35 190.85L474.65 190.85L474.65 192.85L476.65 192.85L476.65 195.15L474.65 195.15L474.65 197.15L472.35 197.15L472.35 195.15L470.35 195.15L470.35 192.85L472.35 192.85Z" fill="#ec8766" stroke="#000" stroke-width="0.7" stroke-linejoin="miter"/>
<path d="M434.35 186.35L436.65 186.35L436.65 188.35L438.65 188.35L438.65 190.65L436.65 190.65L436.65 192.65L434.35 192.65L434.35 190.65L432.35 190.65L432.35 188.35L434.35 188.35Z" fill="#ec8766" stroke="#000" stroke-width="0.7" stroke-linejoin="miter"/>
<path d="M437.65 200.65L439.95 200.65L439.95 202.65L441.95 202.65L441.95 204.95L439.95 204.95L439.95 206.95L437.65 206.95L437.65 204.95L435.65 204.95L435.65 202.65L437.65 202.65Z" fill="#ec8766" stroke="#000" stroke-width="0.7" stroke-linejoin="miter"/>
<path d="M453.85 198.05L456.15 198.05L456.15 200.05L458.15 200.05L458.15 202.35L456.15 202.35L456.15 204.35L453.85 204.35L453.85 202.35L451.85 202.35L451.85 200.05L453.85 200.05Z" fill="#ec8766" stroke="#000" stroke-width="0.7" stroke-linejoin="miter"/>
<path d="M460.85 197.25L463.15 197.25L463.15 199.25L465.15 199.25L465.15 201.55L463.15 201.55L463.15 203.55L460.85 203.55L460.85 201.55L458.85 201.55L458.85 199.25L460.85 199.25Z" fill="#ec8766" stroke="#000" stroke-width="0.7" stroke-linejoin="miter"/>
<path d="M468.65 197.65L470.95 197.65L470.95 199.65L472.95 199.65L472.95 201.95L470.95 201.95L470.95 203.95L468.65 203.95L468.65 201.95L466.65 201.95L466.65 199.65L468.65 199.65Z" fill="#ec8766" stroke="#000" stroke-width="0.7" stroke-linejoin="miter"/>
<path d="M447.35 226.85L449.65 226.85L449.65 228.85L451.65 228.85L451.65 231.15L449.65 231.15L449.65 233.15L447.35 233.15L447.35 231.15L445.35 231.15L445.35 228.85L447.35 228.85Z" fill="#f8ece4" stroke="#000" stroke-width="0.7" stroke-linejoin="miter"/>
<path d="M437.25 208.15L439.55 208.15L439.55 210.15L441.55 210.15L441.55 212.45L439.55 212.45L439.55 214.45L437.25 214.45L437.25 212.45L435.25 212.45L435.25 210.15L437.25 210.15Z" fill="#f8ece4" stroke="#000" stroke-width="0.7" stroke-linejoin="miter"/>
<path d="M453.35 208.35L455.65 208.35L455.65 210.35L457.65 210.35L457.65 212.65L455.65 212.65L455.65 214.65L453.35 214.65L453.35 212.65L451.35 212.65L451.35 210.35L453.35 210.35Z" fill="#f8ece4" stroke="#000" stroke-width="0.7" stroke-linejoin="miter"/>
<path d="M457.35 203.85L459.65 203.85L459.65 205.85L461.65 205.85L461.65 208.15L459.65 208.15L459.65 210.15L457.35 210.15L457.35 208.15L455.35 208.15L455.35 205.85L457.35 205.85Z" fill="#f8ece4" stroke="#000" stroke-width="0.7" stroke-linejoin="miter"/>
<path d="M468.05 208.85L470.35 208.85L470.35 210.85L472.35 210.85L472.35 213.15L470.35 213.15L470.35 215.15L468.05 215.15L468.05 213.15L466.05 213.15L466.05 210.85L468.05 210.85Z" fill="#f8ece4" stroke="#000" stroke-width="0.7" stroke-linejoin="miter"/>
<path d="M437.05 228.05L439.35 228.05L439.35 230.05L441.35 230.05L441.35 232.35L439.35 232.35L439.35 234.35L437.05 234.35L437.05 232.35L435.05 232.35L435.05 230.05L437.05 230.05Z" fill="#a9d3ea" stroke="#000" stroke-width="0.7" stroke-linejoin="miter"/>
<path d="M444.55 228.45L446.85 228.45L446.85 230.45L448.85 230.45L448.85 232.75L446.85 232.75L446.85 234.75L444.55 234.75L444.55 232.75L442.55 232.75L442.55 230.45L444.55 230.45Z" fill="#a9d3ea" stroke="#000" stroke-width="0.7" stroke-linejoin="miter"/>
<path d="M462.65 224.65L464.95 224.65L464.95 226.65L466.95 226.65L466.95 228.95L464.95 228.95L464.95 230.95L462.65 230.95L462.65 228.95L460.65 228.95L460.65 226.65L462.65 226.65Z" fill="#a9d3ea" stroke="#000" stroke-width="0.7" stroke-linejoin="miter"/>
<path d="M477.55 227.35L479.85 227.35L479.85 229.35L481.85 229.35L481.85 231.65L479.85 231.65L479.85 233.65L477.55 233.65L477.55 231.65L475.55 231.65L475.55 229.35L477.55 229.35Z" fill="#a9d3ea" stroke="#000" stroke-width="0.7" stroke-linejoin="miter"/>
<path d="M477.85 231.15L480.15 231.15L480.15 233.15L482.15 233.15L482.15 235.45L480.15 235.45L480.15 237.45L477.85 237.45L477.85 235.45L475.85 235.45L475.85 233.15L477.85 233.15Z" fill="#a9d3ea" stroke="#000" stroke-width="0.7" stroke-linejoin="miter"/>
<path d="M475.85 235.35L478.15 235.35L478.15 237.35L480.15 237.35L480.15 239.65L478.15 239.65L478.15 241.65L475.85 241.65L475.85 239.65L473.85 239.65L473.85 237.35L475.85 237.35Z" fill="#a9d3ea" stroke="#000" stroke-width="0.7" stroke-linejoin="miter"/>
<path d="M415.35 237.35L417.65 237.35L417.65 239.35L419.65 239.35L419.65 241.65L417.65 241.65L417.65 243.65L415.35 243.65L415.35 241.65L413.35 241.65L413.35 239.35L415.35 239.35Z" fill="#0e3b70" stroke="#000" stroke-width="0.7" stroke-linejoin="miter"/>
<path d="M433.05 237.35L435.35 237.35L435.35 239.35L437.35 239.35L437.35 241.65L435.35 241.65L435.35 243.65L433.05 243.65L433.05 241.65L431.05 241.65L431.05 239.35L433.05 239.35Z" fill="#0e3b70" stroke="#000" stroke-width="0.7" stroke-linejoin="miter"/>
<path d="M442.55 237.65L444.85 237.65L444.85 239.65L446.85 239.65L446.85 241.95L444.85 241.95L444.85 243.95L442.55 243.95L442.55 241.95L440.55 241.95L440.55 239.65L442.55 239.65Z" fill="#0e3b70" stroke="#000" stroke-width="0.7" stroke-linejoin="miter"/>
<path d="M449.35 237.05L451.65 237.05L451.65 239.05L453.65 239.05L453.65 241.35L451.65 241.35L451.65 243.35L449.35 243.35L449.35 241.35L447.35 241.35L447.35 239.05L449.35 239.05Z" fill="#0e3b70" stroke="#000" stroke-width="0.7" stroke-linejoin="miter"/>
<path d="M449.35 239.35L451.65 239.35L451.65 241.35L453.65 241.35L453.65 243.65L451.65 243.65L451.65 245.65L449.35 245.65L449.35 243.65L447.35 243.65L447.35 241.35L449.35 241.35Z" fill="#0e3b70" stroke="#000" stroke-width="0.7" stroke-linejoin="miter"/>
<path d="M457.45 236.65L459.75 236.65L459.75 238.65L461.75 238.65L461.75 240.95L459.75 240.95L459.75 242.95L457.45 242.95L457.45 240.95L455.45 240.95L455.45 238.65L457.45 238.65Z" fill="#0e3b70" stroke="#000" stroke-width="0.7" stroke-linejoin="miter"/>
<path d="M388.3 215.7L383.35 212.83L383.35 218.57Z" fill="#f0936e" stroke="#000" stroke-width="0.7"/>
<path d="M408.9 218.5L403.95 215.63L403.95 221.37Z" fill="#f0936e" stroke="#000" stroke-width="0.7"/>
<path d="M432.3 223.7L427.35 220.83L427.35 226.57Z" fill="#f0936e" stroke="#000" stroke-width="0.7"/>
<path d="M453.2 227.5L448.25 224.63L448.25 230.37Z" fill="#f0936e" stroke="#000" stroke-width="0.7"/>
<path d="M471.8 235.4L466.85 232.53L466.85 238.27Z" fill="#f0936e" stroke="#000" stroke-width="0.7"/>
<path d="M477.1 236.9L472.15 234.03L472.15 239.77Z" fill="#f0936e" stroke="#000" stroke-width="0.7"/>
<polyline points="438.5,105 450,106.4 460,107.8 470,109.6 481,112.3 488,116.5 493,120.5 497,124.5 505,132.5 513,140 521.5,150 528,157.4 535,164.5" fill="none" stroke="#c42a38" stroke-width="2.3" stroke-linecap="round" stroke-linejoin="round"/>
<polyline points="518.7,206.5 530,210.5 540,213.5 549,215.8 558,218.2 568,220.5 580,222.3 590,223.6 600,224.6" fill="none" stroke="#c92f3e" stroke-width="2.3" stroke-linecap="round" stroke-linejoin="round"/>
<polyline points="382.5,199.7 390,203 398.6,205.6 405,207.2 412,208.6 420,209.9 428,210.8" fill="none" stroke="#ee8d6c" stroke-width="2.3" stroke-linecap="round" stroke-linejoin="round"/>
<polyline points="463,138.7 506.4,170.2" fill="none" stroke="#6b0024" stroke-width="2.3" stroke-linecap="round" stroke-linejoin="round"/>
<polyline points="433,192.3 481.5,184.6" fill="none" stroke="#ec8766" stroke-width="2.3" stroke-linecap="round" stroke-linejoin="round"/>
<polyline points="437,211 470,209.5" fill="none" stroke="#f6e3d7" stroke-width="2.3" stroke-linecap="round" stroke-linejoin="round"/>
<polyline points="437,232 445,231.3 452,229.4 458,228.8 464,229.8 470,232.2 476,235" fill="none" stroke="#a9d3ea" stroke-width="2.3" stroke-linecap="round" stroke-linejoin="round"/>
<polyline points="414,240.7 458,239.6" fill="none" stroke="#0e3b70" stroke-width="2.3" stroke-linecap="round" stroke-linejoin="round"/>
<polyline points="383.5,215 395.5,216.4 413,219 427,222.4 438,225.8 455,229.8 468,234.2 476,237.2" fill="none" stroke="#f0936e" stroke-width="2.3" stroke-linecap="round" stroke-linejoin="round"/>
</g>
<rect x="53.7" y="7.4" width="247.4" height="243" fill="none" stroke="#000" stroke-width="1.1"/>
<rect x="363.25" y="7.4" width="253.25" height="243" fill="none" stroke="#000" stroke-width="1.1"/>
<path d="M53.7 250.4v3M58.25 250.4v3M62.11 250.4v3M65.44 250.4v3M68.38 250.4v3M71.02 250.4v5M88.33 250.4v3M98.46 250.4v3M105.65 250.4v3M111.22 250.4v3M115.78 250.4v3M119.63 250.4v3M122.96 250.4v3M125.9 250.4v3M128.54 250.4v5M145.85 250.4v3M155.98 250.4v3M163.17 250.4v3M168.74 250.4v3M173.3 250.4v3M177.15 250.4v3M180.48 250.4v3M183.43 250.4v3M186.06 250.4v5M203.37 250.4v3M213.5 250.4v3M220.69 250.4v3M226.26 250.4v3M230.82 250.4v3M234.67 250.4v3M238 250.4v3M240.95 250.4v3M243.58 250.4v5M260.89 250.4v3M271.02 250.4v3M278.21 250.4v3M283.78 250.4v3M288.34 250.4v3M292.19 250.4v3M295.53 250.4v3M298.47 250.4v3M301.1 250.4v5M363.25 250.4v3M367.91 250.4v3M371.85 250.4v3M375.27 250.4v3M378.28 250.4v3M380.98 250.4v5M398.7 250.4v3M409.07 250.4v3M416.43 250.4v3M422.13 250.4v3M426.79 250.4v3M430.74 250.4v3M434.15 250.4v3M437.16 250.4v3M439.86 250.4v5M457.58 250.4v3M467.95 250.4v3M475.31 250.4v3M481.01 250.4v3M485.67 250.4v3M489.62 250.4v3M493.03 250.4v3M496.04 250.4v3M498.74 250.4v5M516.46 250.4v3M526.83 250.4v3M534.19 250.4v3M539.89 250.4v3M544.56 250.4v3M548.5 250.4v3M551.91 250.4v3M554.92 250.4v3M557.62 250.4v5M575.34 250.4v3M585.71 250.4v3M593.07 250.4v3M598.77 250.4v3M603.44 250.4v3M607.38 250.4v3M610.79 250.4v3M613.81 250.4v3M616.5 250.4v5M53.7 250.4h-5M53.7 235.77h-3M53.7 227.21h-3M53.7 221.14h-3M53.7 216.43h-3M53.7 212.58h-3M53.7 209.33h-3M53.7 206.51h-3M53.7 204.02h-3M53.7 201.8h-5M53.7 187.17h-3M53.7 178.61h-3M53.7 172.54h-3M53.7 167.83h-3M53.7 163.98h-3M53.7 160.73h-3M53.7 157.91h-3M53.7 155.42h-3M53.7 153.2h-5M53.7 138.57h-3M53.7 130.01h-3M53.7 123.94h-3M53.7 119.23h-3M53.7 115.38h-3M53.7 112.13h-3M53.7 109.31h-3M53.7 106.82h-3M53.7 104.6h-5M53.7 89.97h-3M53.7 81.41h-3M53.7 75.34h-3M53.7 70.63h-3M53.7 66.78h-3M53.7 63.53h-3M53.7 60.71h-3M53.7 58.22h-3M53.7 56h-5M53.7 41.37h-3M53.7 32.81h-3M53.7 26.74h-3M53.7 22.03h-3M53.7 18.18h-3M53.7 14.93h-3M53.7 12.11h-3M53.7 9.62h-3M53.7 7.4h-5M363.25 250.4h-5M363.25 209.9h-5M363.25 169.4h-5M363.25 128.9h-5M363.25 88.4h-5M363.25 47.9h-5M363.25 7.4h-5" stroke="#000" stroke-width="1.1" fill="none"/>
<text x="70.72" y="273.3" font-size="11.6" text-anchor="middle">10<tspan font-size="8.352" dx="0.5" dy="-7">5</tspan></text>
<text x="128.24" y="273.3" font-size="11.6" text-anchor="middle">10<tspan font-size="8.352" dx="0.5" dy="-7">6</tspan></text>
<text x="185.76" y="273.3" font-size="11.6" text-anchor="middle">10<tspan font-size="8.352" dx="0.5" dy="-7">7</tspan></text>
<text x="243.28" y="273.3" font-size="11.6" text-anchor="middle">10<tspan font-size="8.352" dx="0.5" dy="-7">8</tspan></text>
<text x="300.8" y="273.3" font-size="11.6" text-anchor="middle">10<tspan font-size="8.352" dx="0.5" dy="-7">9</tspan></text>
<text x="380.68" y="273.3" font-size="11.6" text-anchor="middle">10<tspan font-size="8.352" dx="0.5" dy="-7">5</tspan></text>
<text x="439.56" y="273.3" font-size="11.6" text-anchor="middle">10<tspan font-size="8.352" dx="0.5" dy="-7">6</tspan></text>
<text x="498.44" y="273.3" font-size="11.6" text-anchor="middle">10<tspan font-size="8.352" dx="0.5" dy="-7">7</tspan></text>
<text x="557.32" y="273.3" font-size="11.6" text-anchor="middle">10<tspan font-size="8.352" dx="0.5" dy="-7">8</tspan></text>
<text x="616.2" y="273.3" font-size="11.6" text-anchor="middle">10<tspan font-size="8.352" dx="0.5" dy="-7">9</tspan></text>
<text x="43.3" y="256.7" font-size="11.6" text-anchor="end">10<tspan font-size="8.352" dx="0.6" dy="-7.3">3</tspan></text>
<text x="43.3" y="208.1" font-size="11.6" text-anchor="end">10<tspan font-size="8.352" dx="0.6" dy="-7.3">4</tspan></text>
<text x="43.3" y="159.5" font-size="11.6" text-anchor="end">10<tspan font-size="8.352" dx="0.6" dy="-7.3">5</tspan></text>
<text x="43.3" y="110.9" font-size="11.6" text-anchor="end">10<tspan font-size="8.352" dx="0.6" dy="-7.3">6</tspan></text>
<text x="43.3" y="62.3" font-size="11.6" text-anchor="end">10<tspan font-size="8.352" dx="0.6" dy="-7.3">7</tspan></text>
<text x="43.3" y="13.7" font-size="11.6" text-anchor="end">10<tspan font-size="8.352" dx="0.6" dy="-7.3">8</tspan></text>
<text x="353.8" y="254.5" font-size="11.6" text-anchor="end">0</text>
<text x="353.8" y="214" font-size="11.6" text-anchor="end">3</text>
<text x="353.8" y="173.5" font-size="11.6" text-anchor="end">6</text>
<text x="353.8" y="133" font-size="11.6" text-anchor="end">9</text>
<text x="353.8" y="92.5" font-size="11.6" text-anchor="end">12</text>
<text x="353.8" y="52" font-size="11.6" text-anchor="end">15</text>
<text x="353.8" y="11.5" font-size="11.6" text-anchor="end">18</text>
<text x="177.5" y="297.3" font-size="13" text-anchor="middle">MT<tspan font-size="8.84" dy="3.9">react</tspan><tspan dy="-3.9"> (cm</tspan><tspan font-size="9.36" dy="-8">−3</tspan><tspan dy="8">s</tspan><tspan font-size="9.36" dy="-8">−1</tspan><tspan dy="8">)</tspan></text>
<text x="489.6" y="297.3" font-size="13" text-anchor="middle">MT<tspan font-size="8.84" dy="3.9">react</tspan><tspan dy="-3.9"> (cm</tspan><tspan font-size="9.36" dy="-8">−3</tspan><tspan dy="8">s</tspan><tspan font-size="9.36" dy="-8">−1</tspan><tspan dy="8">)</tspan></text>
<text transform="translate(15.7 128) rotate(-90)" font-size="13" text-anchor="middle">P<tspan font-size="9.36" dy="3.3">HOM</tspan><tspan dy="-3.3"> (cm</tspan><tspan font-size="9.36" dy="-8">−3</tspan><tspan dy="8"> s</tspan><tspan font-size="9.36" dy="-8">−1</tspan><tspan dy="8">)</tspan></text>
<text transform="translate(332.8 128.8) rotate(-90)" font-size="13" text-anchor="middle">HOM yield (%)</text>
<text x="58.2" y="19.7" font-size="13.1" font-weight="bold">(a)</text>
<text x="368" y="20.0" font-size="13.1" font-weight="bold">(b)</text>
<rect x="200" y="160.7" width="95.3" height="84.3" rx="2.5" fill="#fff" fill-opacity="0.8" stroke="#cccccc" stroke-width="1"/>
<line x1="204.2" y1="169.5" x2="228" y2="169.5" stroke="#c9c9c9" stroke-width="1.5" stroke-dasharray="5.4 2.2"/>
<text x="235.8" y="173.6" font-size="11.4">yield: 20 %</text>
<line x1="204.2" y1="185.7" x2="228" y2="185.7" stroke="#a3a3a3" stroke-width="1.5" stroke-dasharray="5.4 2.2"/>
<text x="235.8" y="189.8" font-size="11.4">yield: 10 %</text>
<line x1="204.2" y1="201.9" x2="228" y2="201.9" stroke="#7a7a7a" stroke-width="1.5" stroke-dasharray="5.4 2.2"/>
<text x="235.8" y="206" font-size="11.4">yield: 5 %</text>
<line x1="204.2" y1="218.1" x2="228" y2="218.1" stroke="#4b4b4b" stroke-width="1.5" stroke-dasharray="5.4 2.2"/>
<text x="235.8" y="222.2" font-size="11.4">yield: 2 %</text>
<line x1="204.2" y1="234.3" x2="228" y2="234.3" stroke="#333333" stroke-width="1.5" stroke-dasharray="5.4 2.2"/>
<text x="235.8" y="238.4" font-size="11.4">yield: 1 %</text>
<rect x="465.3" y="12.3" width="145.6" height="83.3" rx="2.5" fill="#fff" fill-opacity="0.8" stroke="#cccccc" stroke-width="1"/>
<circle cx="481" cy="22.4" r="2.65" fill="#c42a38" stroke="#000" stroke-width="0.7"/>
<text x="501.4" y="26.1" font-size="11.3">Ehn et al, 2014</text>
<path d="M481 34.47L483.35 38.42L481 42.37L478.65 38.42Z" fill="#c92f3e" stroke="#000" stroke-width="0.7"/>
<text x="501.4" y="42.12" font-size="11.3">Jokinen et al, 2015</text>
<rect x="478.25" y="51.69" width="5.5" height="5.5" fill="#ee8d6c" stroke="#000" stroke-width="0.7"/>
<text x="501.4" y="58.14" font-size="11.3">Kirkby et al, 2016</text>
<path d="M479.85 67.31L482.15 67.31L482.15 69.31L484.15 69.31L484.15 71.61L482.15 71.61L482.15 73.61L479.85 73.61L479.85 71.61L477.85 71.61L477.85 69.31L479.85 69.31Z" fill="#ec8766" stroke="#000" stroke-width="0.7" stroke-linejoin="miter"/>
<text x="501.4" y="74.16" font-size="11.3">Simon et al, 2020</text>
<path d="M484.3 86.48L479.35 83.61L479.35 89.35Z" fill="#f0936e" stroke="#000" stroke-width="0.7"/>
<text x="501.4" y="90.18" font-size="11.3">CLOUD AP oxidation</text>
<rect x="632.4" y="7.3" width="24.2" height="243.2" fill="url(#cb)" stroke="#000" stroke-width="1.1"/>
<text x="666.4" y="232.39" font-size="11.6">230</text>
<text x="666.4" y="199.96" font-size="11.6">240</text>
<text x="666.4" y="167.53" font-size="11.6">250</text>
<text x="666.4" y="135.11" font-size="11.6">260</text>
<text x="666.4" y="102.68" font-size="11.6">270</text>
<text x="666.4" y="70.25" font-size="11.6">280</text>
<text x="666.4" y="37.83" font-size="11.6">290</text>
<path d="M656.6 228.29h5M656.6 195.86h5M656.6 163.43h5M656.6 131.01h5M656.6 98.58h5M656.6 66.15h5M656.6 33.73h5" stroke="#000" stroke-width="1.1"/>
<text transform="translate(648.6 128.5) rotate(-90)" font-size="12.7" font-weight="bold" text-anchor="middle">Temperature (K)</text>
</svg></body></html>
